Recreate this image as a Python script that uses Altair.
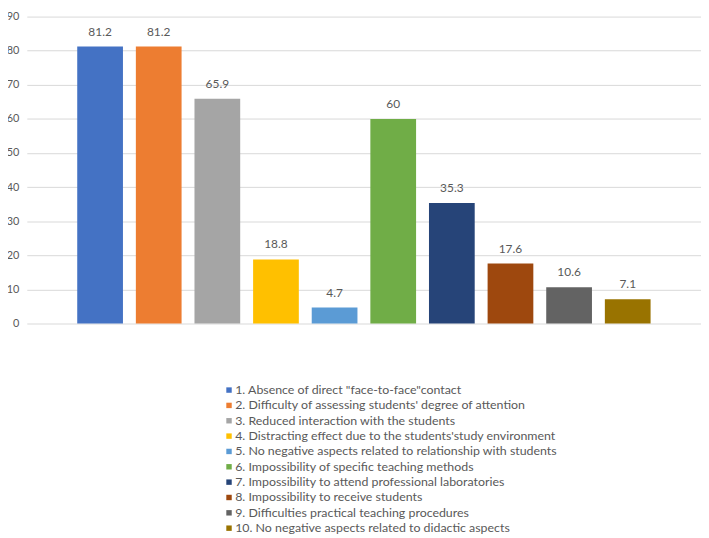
import altair as alt
import pandas as pd

categories = [
    "1. Absence of direct \"face-to-face\"contact",
    "2. Difficulty of assessing students' degree of attention",
    "3. Reduced interaction with the students",
    "4. Distracting effect due to the students'study environment",
    "5. No negative aspects related to relationship with students",
    "6. Impossibility of specific teaching methods",
    "7. Impossibility to attend professional laboratories",
    "8. Impossibility to receive students",
    "9. Difficulties practical teaching procedures",
    "10. No negative aspects related to didactic aspects",
]
values = [81.2, 81.2, 65.9, 18.8, 4.7, 60, 35.3, 17.6, 10.6, 7.1]
colors = ["#4472C4", "#ED7D31", "#A5A5A5", "#FFC000", "#5B9BD5",
          "#70AD47", "#264478", "#9E480E", "#636363", "#997300"]
y_ticks = [0, 10, 20, 30, 40, 50, 60, 70, 80, 90]

df = pd.DataFrame({"cat": categories, "val": values})
FONT = "Lato"
TXT = "#595959"

x = alt.X("cat:N", sort=categories, axis=None,
          scale=alt.Scale(paddingInner=0.22, paddingOuter=0.86))
y = alt.Y("val:Q", title=None,
          scale=alt.Scale(domain=[0, 90], nice=False),
          axis=alt.Axis(values=y_ticks, tickCount=10, grid=True,
                        gridColor="#d9d9d9", labelOverlap=False,
                        domain=False, ticks=False, labelColor=TXT,
                        labelFontSize=11, labelFont=FONT, labelPadding=8))

bars = alt.Chart(df).mark_bar().encode(
    x=x, y=y,
    color=alt.Color("cat:N", sort=categories,
                    scale=alt.Scale(domain=categories, range=colors),
                    legend=alt.Legend(title=None, orient="none",
                                      legendX=198, legendY=371,
                                      symbolType="square", symbolSize=30,
                                      symbolStrokeWidth=0,
                                      labelFont=FONT, labelFontSize=12.5,
                                      labelColor=TXT, labelLimit=500,
                                      rowPadding=2.5, labelOffset=0)),
)

labels = alt.Chart(df).mark_text(dy=-15, fontSize=12, font=FONT,
                                 color=TXT).encode(
    x=alt.X("cat:N", sort=categories), y="val:Q", text=alt.Text("val:Q"))

chart = alt.layer(bars, labels).properties(
    width=681, height=310,
    autosize=alt.AutoSizeParams(type="none"),
    padding={"left": 19, "top": 6, "right": 0, "bottom": 214},
).configure_view(stroke=None)

chart.save("out.html", embed_options={"renderer": "svg", "actions": False})
